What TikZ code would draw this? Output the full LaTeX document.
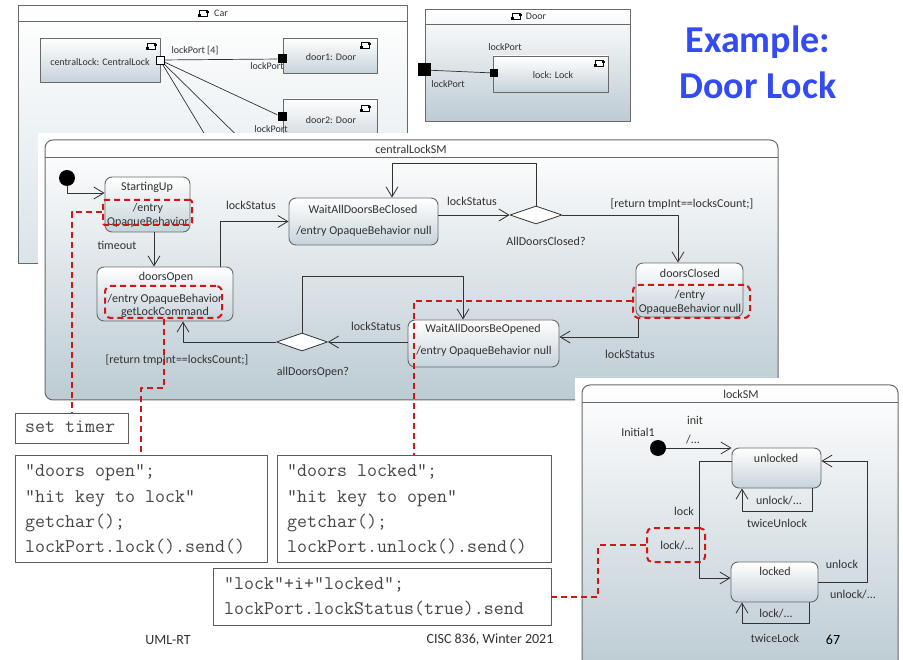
\documentclass[tikz,border=0pt]{standalone}
\usepackage{fontspec}
\setmainfont{Carlito}
\usetikzlibrary{arrows.meta,shapes.geometric}

\definecolor{ink}{RGB}{50,50,50}
\definecolor{edge}{RGB}{105,105,105}
\definecolor{stbot}{RGB}{198,211,219}
\definecolor{frbot}{RGB}{188,203,211}
\definecolor{carbot}{RGB}{218,228,233}
\definecolor{cmt}{RGB}{208,22,22}
\definecolor{ttl}{RGB}{50,75,245}

\tikzset{
  compicon/.pic={
    \draw[black,line width=0.5pt,fill=white] (-4,-3) rectangle (4,3);
    \fill[black] (-5,1) rectangle (-2,4);
    \fill[black] (3,-1.5) rectangle (5.5,0.5);
  },
  frame/.style={draw=edge, line width=1pt, rounded corners=8pt, top color=white, bottom color=frbot, inner sep=0pt},
  boxframe/.style={draw=edge, line width=0.9pt, top color=white, bottom color=carbot, inner sep=0pt},
  partbox/.style={draw=edge, line width=0.9pt, top color=white, bottom color=stbot, inner sep=0pt},
  statebox/.style={draw=edge, line width=0.9pt, rounded corners=7pt, top color=white, bottom color=stbot, inner sep=0pt},
  choice/.style={diamond, draw=ink, line width=0.8pt, fill=white, inner sep=0pt, minimum width=52pt, minimum height=18pt},
  initial/.style={circle, fill=black, inner sep=0pt, minimum size=16pt},
  tr/.style={draw=ink, line width=0.8pt, -{Straight Barb[length=10pt,width=12pt,line width=0.8pt]}},
  wire/.style={draw=ink, line width=0.7pt},
  lbl/.style={font=\fontsize{12}{14}\selectfont, text=ink, inner sep=0pt},
  small/.style={font=\fontsize{10}{12}\selectfont, text=ink, inner sep=0pt},
  hport/.style={draw=black, fill=white, line width=0.7pt, minimum size=8pt, inner sep=0pt},
  bport/.style={fill=black, minimum size=9pt, inner sep=0pt},
  notebox/.style={draw=cmt, line width=2pt, dash pattern=on 6pt off 4pt, inner sep=0pt},
  noteline/.style={draw=cmt, color=cmt, line width=2pt, dash pattern=on 6pt off 4pt},
  codebox/.style={draw=ink!80, line width=0.9pt, fill=white, inner sep=0pt},
  code/.style={font=\ttfamily\fontsize{19.4}{22}\selectfont, text=ink!90, anchor=base west, inner sep=0pt},
}

\begin{document}
\begin{tikzpicture}[x=1pt,y=-1pt,line join=round]
\clip (0,0) rectangle (903,660);
\fill[white] (0,0) rectangle (903,660);

% ---------- Car structure ----------
\node[boxframe, minimum width=389pt, minimum height=258pt] (car) at (212.5,134) {};
\draw[edge,line width=0.9pt] (18,21) -- (407,21);
\pic at (203,13) {compicon};
\node[small] (cartitle) at (221,13) {Car};

\node[partbox, minimum width=120pt, minimum height=44pt] (cl) at (100,60) {};
\node[small] (cltext) at (100,62) {centralLock: CentralLock};
\pic at (151,46) {compicon};
\node[partbox, minimum width=94pt, minimum height=35pt] (door1) at (330,55.5) {};
\node[small] (door1text) at (331,57) {door1: Door};
\pic at (365,45) {compicon};
\node[partbox, minimum width=94pt, minimum height=46pt] (door2) at (330,122) {};
\node[small] (door2text) at (331,120) {door2: Door};
\pic at (365,108) {compicon};

\coordinate (d3) at (225,168);
\coordinate (d4) at (270,168);
\node[hport] (p0) at (160,60) {};
\node[bport] (p1) at (282,59) {};
\node[bport] (p2) at (282,117) {};
\draw[wire] (p0) -- (p1);
\draw[wire] (p0) -- (p2);
\draw[wire] (p0) -- (d3);
\draw[wire] (p0) -- (d4);
\node[hport] at (p0) {};
\node[small] (lp4) at (195,51) {lockPort [4]};
\node[small] (lp1) at (267,66) {lockPort};
\node[small] (lp2) at (271,129) {lockPort};

% ---------- Door structure ----------
\node[boxframe, bottom color=frbot, minimum width=205pt, minimum height=112pt] (door) at (527.5,65) {};
\draw[edge,line width=0.9pt] (425,24) -- (630,24);
\pic at (516,16) {compicon};
\node[small] (doortitle) at (536,16) {Door};
\node[partbox, minimum width=115pt, minimum height=36pt] (lockpart) at (550.5,74) {};
\node[small] (locktext) at (553,75) {lock: Lock};
\pic at (599,63) {compicon};
\node[fill=black, minimum size=13pt, inner sep=0pt] (dp0) at (424,70) {};
\node[bport, minimum size=8pt] (dp1) at (494,73) {};
\draw[wire] (dp0) -- (dp1);
\node[small] (dlp1) at (505,47) {lockPort};
\node[small] (dlp2) at (448,84) {lockPort};

% ---------- heading ----------
\node[font=\bfseries\fontsize{38}{40}\selectfont, text=ttl, inner sep=0pt] (head1) at (758,42) {Example:};
\node[font=\bfseries\fontsize{38}{40}\selectfont, text=ttl, inner sep=0pt] (head2) at (758,85) {Door Lock};

% ---------- centralLockSM ----------
\fill[white] (38,133) rectangle (785,405);
\node[frame, minimum width=733pt, minimum height=260pt] (csm) at (411.5,270) {};
\draw[edge,line width=1pt] (45,158) -- (778,158);
\node[lbl] (csmtitle) at (411,149) {centralLockSM};

\node[initial] (i0) at (67,178) {};
\node[statebox, minimum width=85pt, minimum height=55pt] (su) at (147.5,204.5) {};
\node[statebox, minimum width=136pt, minimum height=54pt] (do) at (165,294) {};
\node[statebox, minimum width=149pt, minimum height=47pt] (wc) at (363.5,221.5) {};
\node[statebox, minimum width=107pt, minimum height=54pt] (dcl) at (689.5,290) {};
\node[statebox, minimum width=151pt, minimum height=47pt] (wo) at (483.5,343.5) {};
\node[choice] (dc) at (536,215) {};
\node[choice, minimum width=51pt] (dop) at (302,342) {};

% state texts
\node[lbl] (sut1) at (147,187) {StartingUp};
\node[lbl] (sut2) at (148,208) {/entry};
\node[lbl] (sut3) at (148,222) {OpaqueBehavior};
\node[lbl] (dot1) at (166,277) {doorsOpen};
\node[lbl] (dot2) at (165,299) {/entry OpaqueBehavior};
\node[lbl] (dot3) at (165,312) {getLockCommand};
\node[lbl] (wct1) at (363,209) {WaitAllDoorsBeClosed};
\node[lbl] (wct2) at (364,231) {/entry OpaqueBehavior null};
\node[lbl] (dclt1) at (690,273) {doorsClosed};
\node[lbl] (dclt2) at (690,295) {/entry};
\node[lbl] (dclt3) at (690,309) {OpaqueBehavior null};
\node[lbl] (wot1) at (483,329) {WaitAllDoorsBeOpened};
\node[lbl] (wot2) at (484,351) {/entry OpaqueBehavior null};

% transitions
\draw[tr] (i0) |- ([yshift=11.5pt]su.west);
\draw[tr] ([xshift=6.5pt]su.south) -- ([xshift=-11pt]do.north);
\draw[tr] ([xshift=55pt]do.north) |- (wc.west);
\draw[tr] (wc.east |- dc.west) -- (dc.west);
\draw[tr] (dc.north) -- ++(0,-42) -| ([xshift=28.5pt]wc.north);
\draw[tr] (dc.east) -| ([xshift=-11.5pt]dcl.north);
\draw[tr] ([xshift=-51.5pt]dcl.south) |- ([yshift=6.5pt]wo.east);
\draw[tr] (wo.west |- dop.east) -- (dop.east);
\draw[tr] (dop.west) -| ([xshift=18pt]do.south);
\draw[tr] (dop.north) -- ++(0,-56) -| ([xshift=-20.5pt]wo.north);

% transition labels
\node[lbl] (lt1) at (117,245) {timeout};
\node[lbl] (lt2) at (251,205) {lockStatus};
\node[lbl] (lt3) at (472,201) {lockStatus};
\node[lbl] (lt4) at (546,241) {AllDoorsClosed?};
\node[lbl] (lt5) at (682,204) {[return tmpInt==locksCount;]};
\node[lbl] (lt6) at (630,354) {lockStatus};
\node[lbl] (lt7) at (376,326) {lockStatus};
\node[lbl] (lt8) at (313,372) {allDoorsOpen?};
\node[lbl] (lt9) at (177,360) {[return tmpInt==locksCount;]};

% highlighted entry actions
\node[notebox, rounded corners=2pt, minimum width=89pt, minimum height=25pt] (r1) at (147.5,212.5) {};
\node[notebox, rounded corners=6pt, minimum width=117pt, minimum height=32pt] (r2) at (163.5,302) {};
\node[notebox, rounded corners=6pt, minimum width=117pt, minimum height=33pt] (r3) at (691.5,301.5) {};

% ---------- code boxes ----------
\node[codebox, minimum width=113pt, minimum height=30pt] (st) at (71.5,428) {};
\node[codebox, minimum width=252pt, minimum height=107pt] (b1) at (141,508.5) {};
\node[codebox, minimum width=274pt, minimum height=107pt] (b2) at (414,508.5) {};
\node[codebox, minimum width=338pt, minimum height=57pt] (b3) at (382,596.5) {};

\node[code] (stc) at (25,433) {set timer};
\node[code] (b1c1) at (25,476) {“doors open”;};
\node[code] (b1c2) at (25,502) {“hit key to lock”};
\node[code] (b1c3) at (25,527) {getchar();};
\node[code] (b1c4) at (25,552) {lockPort.lock().send()};
\node[code] (b2c1) at (287,476) {“doors locked”;};
\node[code] (b2c2) at (287,502) {“hit key to open”};
\node[code] (b2c3) at (287,527) {getchar();};
\node[code] (b2c4) at (287,552) {lockPort.unlock().send()};
\node[code] (b3c1) at (224,589) {“lock”+i+”locked”;};
\node[code] (b3c2) at (224,614) {lockPort.lockStatus(true).send};

% dashed links from actions to code
\coordinate (k1) at (r1.west -| st.north);
\coordinate (k3) at (r3.west -| b2.north);
\draw[noteline] (r1.west) -- (k1) -- (st.north);
\draw[noteline] (r2.south) -- ++(0,69) -| (b1.north);
\draw[noteline] (r3.west) -- (k3) -- (b2.north);

% ---------- lockSM ----------
\fill[white] (575,378) rectangle (903,660);
\node[frame, minimum width=316pt, minimum height=287pt] (lsm) at (740,528.5) {};
\draw[edge,line width=1pt] (582,403) -- (898,403);
\node[lbl] (lsmtitle) at (741,394) {lockSM};

\node[initial] (i1) at (658,448) {};
\node[lbl] (i1t) at (638,432) {Initial1};
\node[statebox, minimum width=89pt, minimum height=40pt] (ul) at (776.5,468) {};
\node[statebox, minimum width=87pt, minimum height=40pt] (lk) at (774.5,582) {};
\node[lbl] (ult) at (776,458) {unlocked};
\node[lbl] (lkt) at (775,571) {locked};

\draw[tr] (i1) -- (i1 -| ul.west);
\draw[tr] ([xshift=35.5pt]ul.south) -- ++(0,23) -| ([xshift=-34.5pt]ul.south);
\draw[tr] ([xshift=34.5pt]lk.south) -- ++(0,21) -| ([xshift=-32.5pt]lk.south);
\draw[tr] ([yshift=7pt]ul.west) -- ++(-32,0) |- ([yshift=4pt]lk.west);
\draw[tr] (lk.east) -- ++(49,0) |- ([yshift=7pt]ul.east);

\node[lbl] (ls1) at (695,420) {init};
\node[lbl] (ls2) at (693,440) {/...};
\node[lbl] (ls3) at (779,501) {unlock/...};
\node[lbl] (ls4) at (777,523) {twiceUnlock};
\node[lbl] (ls5) at (684,511) {lock};
\node[lbl] (ls6) at (677,546) {lock/...};
\node[lbl] (ls7) at (842,564) {unlock};
\node[lbl] (ls8) at (853,595) {unlock/...};
\node[lbl] (ls9) at (776,614) {lock/...};
\node[lbl] (ls10) at (775,638) {twiceLock};
\node[font=\fontsize{14}{16}\selectfont, text=black, inner sep=0pt] (pg) at (833,640) {67};

\node[notebox, rounded corners=5pt, minimum width=58pt, minimum height=34pt] (r4) at (676,545) {};
\draw[noteline] (b3.east) -- ++(47,0) |- (r4.west);

% ---------- footer ----------
\node[font=\fontsize{14}{16}\selectfont, text=ink, inner sep=0pt] (f1) at (168,640) {UML-RT};
\node[font=\fontsize{14}{16}\selectfont, text=ink, inner sep=0pt] (f2) at (490,640) {CISC 836, Winter 2021};
\end{tikzpicture}
\end{document}
